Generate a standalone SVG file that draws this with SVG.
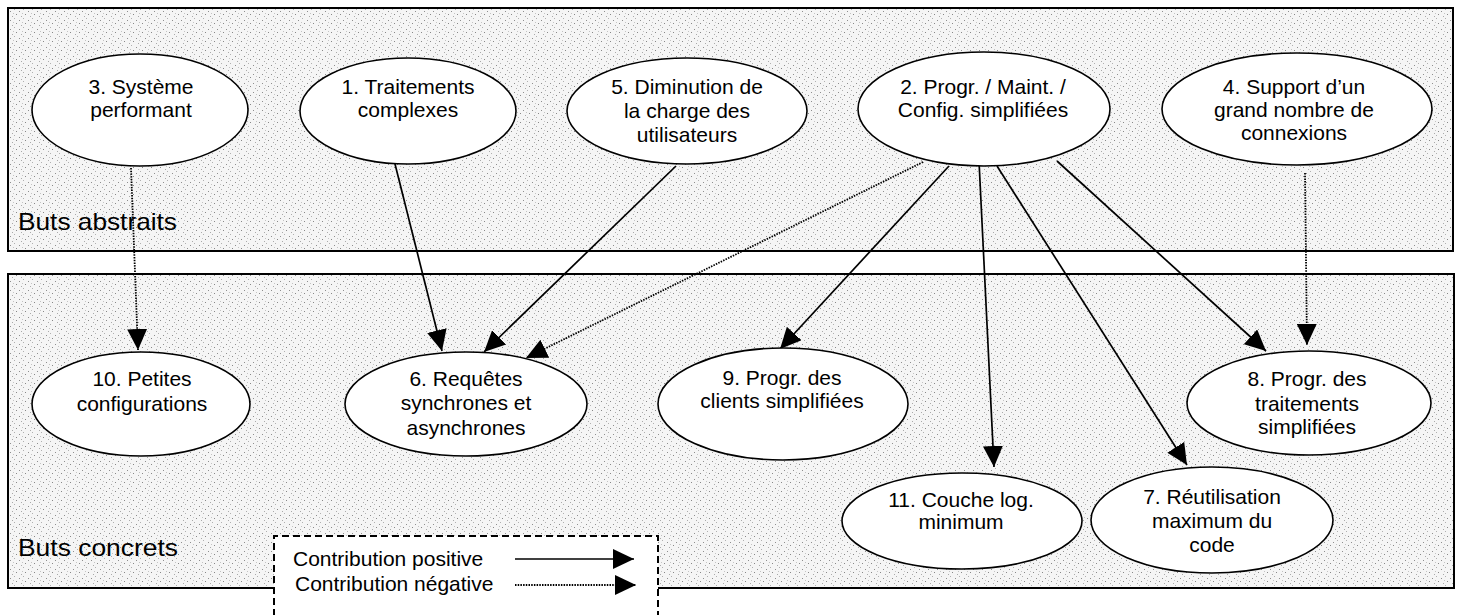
<svg xmlns="http://www.w3.org/2000/svg" width="1462" height="615" viewBox="0 0 1462 615">
<style>
.panel{stroke:#000;stroke-width:2;fill:url(#stipple)}
.node ellipse{fill:#fff;stroke:#000;stroke-width:1.6}
.node text{font-family:"Liberation Sans",Arial,sans-serif;font-size:21px;fill:#000;text-anchor:middle}
.lbl{font-family:"Liberation Sans",Arial,sans-serif;font-size:24px;fill:#000}
.leg{font-family:"Liberation Sans",Arial,sans-serif;font-size:21px;fill:#000}
.pos{stroke:#000;stroke-width:1.7;fill:none;marker-end:url(#arrow)}
.neg{stroke:#000;stroke-width:1.8;fill:none;stroke-dasharray:1.5 1.2;marker-end:url(#arrow)}
</style>
<defs>
<pattern id="stipple" width="9" height="9" patternUnits="userSpaceOnUse">
<rect width="9" height="9" fill="#f5f5f5"/>
<rect x="1" y="2" width="1" height="1" fill="#8f8f8f"/>
<rect x="5" y="0" width="1" height="1" fill="#b0b0b0"/>
<rect x="7" y="5" width="1" height="1" fill="#888"/>
<rect x="3" y="7" width="1" height="1" fill="#aaa"/>
<rect x="4" y="4" width="1" height="1" fill="#c4c4c4"/>
</pattern>
<marker id="arrow" markerWidth="22" markerHeight="20" refX="21" refY="10" orient="auto" markerUnits="userSpaceOnUse">
<path d="M0,0 L21,10 L0,20 z" fill="#000"/>
</marker>
</defs>
<rect width="1462" height="615" fill="#fff"/>
<g id="panels">
<rect class="panel" x="8" y="8" width="1445" height="243"/>
<rect class="panel" x="8" y="274" width="1446" height="314"/>
<text class="lbl" x="18" y="230" textLength="159" lengthAdjust="spacingAndGlyphs">Buts abstraits</text>
<text class="lbl" x="18" y="556" textLength="160" lengthAdjust="spacingAndGlyphs">Buts concrets</text>
</g>
<g id="connectors">
<path class="neg" d="M131,168 L138,350"/>
<path class="pos" d="M394,160 L442,351"/>
<path class="pos" d="M676,166 L484,352"/>
<path class="neg" d="M923,162 L526,358"/>
<path class="pos" d="M949,166 L780,349"/>
<path class="pos" d="M979,161 L994,467"/>
<path class="pos" d="M997,166 L1187,465"/>
<path class="pos" d="M1057,161 L1266,351"/>
<path class="neg" d="M1305,173 L1307,345"/>
</g>
<g id="n3" class="node"><ellipse cx="140" cy="110" rx="108" ry="56"/><text x="141"><tspan x="141" y="94">3. Système</tspan><tspan x="141" y="117">performant</tspan></text></g>
<g id="n1" class="node"><ellipse cx="408" cy="111" rx="108" ry="53"/><text x="408"><tspan x="408" y="94">1. Traitements</tspan><tspan x="408" y="117">complexes</tspan></text></g>
<g id="n5" class="node"><ellipse cx="687" cy="111" rx="120" ry="53"/><text x="687"><tspan x="687" y="94">5. Diminution de</tspan><tspan x="687" y="118">la charge des</tspan><tspan x="687" y="142">utilisateurs</tspan></text></g>
<g id="n2" class="node"><ellipse cx="984" cy="109" rx="126" ry="57"/><text x="983"><tspan x="983" y="94">2. Progr. / Maint. /</tspan><tspan x="983" y="117">Config. simplifiées</tspan></text></g>
<g id="n4" class="node"><ellipse cx="1297" cy="109" rx="135" ry="56"/><text x="1294"><tspan x="1294" y="94">4. Support d’un</tspan><tspan x="1294" y="117">grand nombre de</tspan><tspan x="1294" y="140">connexions</tspan></text></g>
<g id="n10" class="node"><ellipse cx="141" cy="404" rx="109" ry="52"/><text x="142"><tspan x="142" y="386">10. Petites</tspan><tspan x="142" y="411">configurations</tspan></text></g>
<g id="n6" class="node"><ellipse cx="466" cy="404" rx="121" ry="52"/><text x="466"><tspan x="466" y="386">6. Requêtes</tspan><tspan x="466" y="410">synchrones et</tspan><tspan x="466" y="435">asynchrones</tspan></text></g>
<g id="n9" class="node"><ellipse cx="783" cy="404" rx="125" ry="56"/><text x="782"><tspan x="782" y="385">9. Progr. des</tspan><tspan x="782" y="408">clients simplifiées</tspan></text></g>
<g id="n11" class="node"><ellipse cx="962" cy="521" rx="120" ry="48"/><text x="961"><tspan x="961" y="507">11. Couche log.</tspan><tspan x="961" y="529">minimum</tspan></text></g>
<g id="n7" class="node"><ellipse cx="1212" cy="520" rx="121" ry="53"/><text x="1212"><tspan x="1212" y="504">7. Réutilisation</tspan><tspan x="1212" y="528">maximum du</tspan><tspan x="1212" y="552">code</tspan></text></g>
<g id="n8" class="node"><ellipse cx="1309" cy="403" rx="122" ry="52"/><text x="1307"><tspan x="1307" y="386">8. Progr. des</tspan><tspan x="1307" y="411">traitements</tspan><tspan x="1307" y="434">simplifiées</tspan></text></g>
<g id="legend">
<path d="M274,616 L274,536 L658,536 L658,616" fill="#fff" stroke="#000" stroke-width="2" stroke-dasharray="7 4"/>
<text class="leg" x="293" y="566">Contribution positive</text>
<text class="leg" x="295" y="591">Contribution négative</text>
<path class="pos" d="M515,559 L634,559"/>
<path class="neg" d="M515,585 L636,585"/>
</g>
</svg>
